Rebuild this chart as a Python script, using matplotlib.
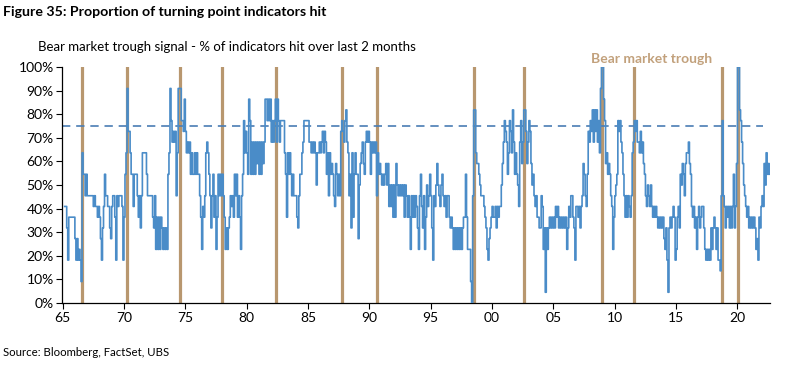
import numpy as np
import matplotlib.pyplot as plt

plt.rcParams['font.family'] = ['Lato', 'DejaVu Sans']

# number of turning point indicators hit (out of 22), monthly, from Mar 1965
N_INDICATORS = 22
START_YEAR = 1965 + 2 / 12

hits_1960s = [
    9, 9, 7, 4, 8, 8, 8, 8, 8, 8,
    6, 4, 6, 4, 5, 4, 2, 14, 12, 12, 10, 12,
    10, 10, 10, 10, 10, 10, 9, 10, 9, 9, 8, 9,
    8, 6, 4, 7, 9, 12, 10, 10, 9, 9, 7, 6,
    9, 10, 10, 8, 4, 10, 9, 10, 10, 10, 9, 4,
]
hits_1970s = [
    8, 12, 14, 20, 16, 16, 14, 12, 12, 9, 12, 12,
    12, 10, 8, 10, 7, 10, 14, 14, 14, 14, 12, 10,
    10, 10, 10, 10, 8, 7, 10, 5, 8, 5, 8, 5,
    8, 7, 5, 7, 5, 7, 5, 12, 14, 20, 17, 15,
    16, 15, 16, 10, 14, 20, 20, 20, 17, 17, 16, 19,
    16, 14, 15, 14, 15, 12, 14, 12, 12, 14, 12, 14,
    12, 12, 10, 8, 5, 9, 8, 10, 14, 15, 14, 12,
    10, 7, 10, 12, 8, 10, 5, 8, 12, 10, 12, 10,
    12, 10, 8, 5, 7, 5, 7, 8, 10, 9, 10, 8,
    12, 10, 12, 8, 10, 8, 5, 10, 12, 17, 14, 16,
]
hits_1980s = [
    14, 12, 19, 17, 12, 15, 12, 15, 12, 15, 13, 15,
    12, 15, 12, 15, 13, 15, 19, 19, 17, 19, 17, 19,
    15, 17, 15, 17, 19, 15, 19, 17, 15, 17, 17, 17,
    17, 14, 12, 8, 14, 12, 14, 12, 10, 12, 10, 10,
    10, 8, 7, 10, 12, 12, 14, 15, 17, 17, 17, 17,
    17, 15, 15, 14, 15, 14, 15, 14, 11, 14, 14, 15,
    14, 15, 16, 14, 16, 15, 12, 14, 10, 14, 12, 13,
    12, 10, 9, 13, 12, 10, 12, 10, 16, 17, 16, 15,
    17, 18, 15, 14, 10, 12, 7, 14, 8, 12, 14, 12,
    12, 6, 11, 13, 14, 15, 13, 12, 15, 16, 15, 16,
]
hits_1990s = [
    15, 12, 15, 14, 15, 14, 15, 10, 14, 12, 13, 12,
    11, 12, 11, 12, 13, 11, 13, 9, 11, 9, 11, 8,
    11, 8, 13, 11, 10, 11, 10, 11, 10, 11, 8, 11,
    10, 8, 10, 8, 5, 10, 8, 10, 8, 10, 9, 7,
    5, 10, 12, 9, 7, 10, 5, 8, 11, 9, 10, 12,
    10, 7, 4, 10, 9, 11, 13, 11, 10, 9, 11, 12,
    10, 9, 10, 8, 10, 10, 8, 7, 8, 7, 5, 7,
    5, 7, 5, 7, 5, 7, 5, 7, 8, 8, 12, 8,
    5, 5, 5, 2, 0, 10, 18, 18, 14, 13, 13, 12,
    11, 10, 10, 10, 9, 8, 7, 5, 4, 6, 7, 8,
]
hits_2000s = [
    9, 8, 8, 9, 7, 9, 8, 9, 9, 11, 13, 15,
    17, 16, 15, 12, 14, 17, 16, 14, 18, 15, 12, 14,
    12, 11, 9, 15, 17, 13, 15, 18, 18, 16, 13, 15,
    17, 16, 13, 11, 12, 10, 9, 10, 8, 8, 7, 7,
    10, 9, 5, 7, 1, 7, 5, 7, 8, 7, 8, 7,
    8, 7, 9, 8, 9, 7, 8, 7, 8, 7, 8, 7,
    8, 5, 7, 9, 8, 10, 10, 8, 7, 4, 9, 9,
    8, 9, 7, 9, 10, 13, 12, 10, 9, 12, 16, 15,
    17, 16, 18, 15, 18, 16, 18, 15, 17, 14, 20, 22,
    22, 19, 17, 13, 14, 12, 13, 12, 10, 9, 5, 8,
]
hits_2010s = [
    10, 11, 12, 17, 16, 17, 15, 14, 12, 10, 8, 10,
    8, 10, 9, 8, 10, 14, 15, 17, 16, 17, 15, 15,
    14, 16, 14, 15, 13, 12, 10, 9, 11, 10, 9, 11,
    9, 8, 9, 8, 9, 8, 7, 8, 7, 8, 7, 8,
    6, 5, 7, 4, 1, 7, 8, 7, 8, 9, 8, 4,
    5, 8, 9, 7, 12, 11, 13, 12, 10, 13, 14, 14,
    15, 13, 12, 9, 8, 9, 7, 8, 5, 8, 9, 7,
    8, 9, 9, 7, 5, 4, 5, 4, 5, 4, 7, 5,
    7, 8, 7, 5, 7, 4, 4, 3, 10, 17, 10, 9,
    7, 9, 8, 9, 7, 9, 7, 9, 12, 7, 9, 13,
]
hits_2020s = [
    22, 22, 18, 17, 15, 13, 11, 10, 9, 8, 9, 7,
    8, 7, 8, 7, 8, 7, 5, 6, 4, 8, 7, 9,
    10, 9, 13, 11, 14, 12, 13, 12,
]

trough_years = [1966.6, 1970.22, 1974.58, 1977.98, 1982.4, 1987.73, 1990.6,
                1998.5, 2002.57, 2008.94, 2011.53, 2018.75, 2020.05]
x_tick_years = list(range(1965, 2021, 5))
x_tick_labels = ['65', '70', '75', '80', '85', '90', '95', '00', '05', '10', '15', '20']
y_ticks = list(range(0, 101, 10))
signal_level = 75

BLUE = '#4A8CC8'
DASH_BLUE = '#4A7DB4'
TAN = '#B8976F'
LABEL_TAN = '#C2A17C'

hits = np.array(hits_1960s + hits_1970s + hits_1980s + hits_1990s
                + hits_2000s + hits_2010s + hits_2020s, dtype=float)
pct = hits / N_INDICATORS * 100
x = START_YEAR + np.arange(len(pct)) / 12

fig = plt.figure(figsize=(8, 3.72), dpi=100)
ax = fig.add_axes([0.0775, 0.1855, 0.885, 0.6344])

for t in trough_years:
    ax.axvline(t, color=TAN, lw=2.3, zorder=1)
ax.axhline(signal_level, color=DASH_BLUE, lw=1.2, ls=(0, (5, 3.5)), xmax=0.99, zorder=2)
ax.plot(x, pct, drawstyle='steps-post', color=BLUE, lw=1.2, zorder=3)

ax.set_xlim(1964.95, 2022.65)
ax.set_ylim(0, 100)
ax.set_xticks(x_tick_years)
ax.set_xticklabels(x_tick_labels)
ax.set_yticks(y_ticks)
ax.set_yticklabels([f'{v}%' for v in y_ticks])
ax.tick_params(axis='both', labelsize=10, length=4, width=0.8, colors='black')
ax.tick_params(axis='x', pad=2.5)
ax.tick_params(axis='y', pad=2)
for s in ['top', 'right']:
    ax.spines[s].set_visible(False)
for s in ['left', 'bottom']:
    ax.spines[s].set_linewidth(0.9)

ax.text(2012.97, 103.4, 'Bear market trough', color=LABEL_TAN, fontsize=10,
        fontweight='bold', ha='center', va='center', clip_on=False)

fig.text(0.004, 1 - 12 / 372, 'Figure 35: Proportion of turning point indicators hit',
         fontsize=10.2, fontweight='bold', ha='left', va='center')
fig.text(38 / 800, 1 - 47 / 372, 'Bear market trough signal - % of indicators hit over last 2 months',
         fontsize=9.5, ha='left', va='center')
fig.text(0.004, 1 - 352 / 372, 'Source: Bloomberg, FactSet, UBS',
         fontsize=8.2, ha='left', va='center')

fig.savefig('out.png', dpi=100)
